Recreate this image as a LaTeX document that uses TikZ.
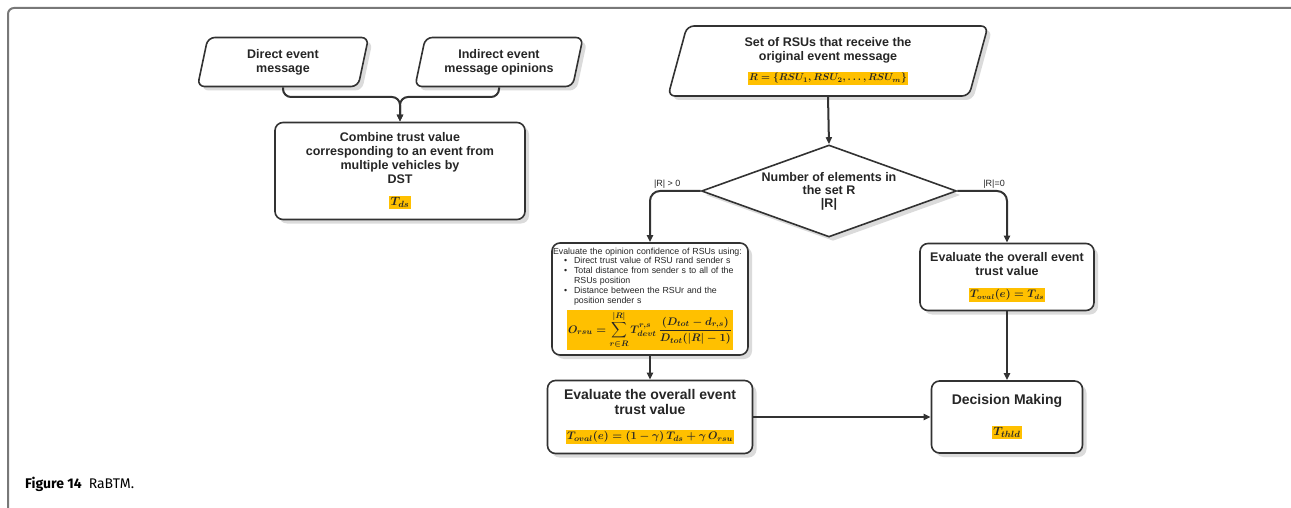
\documentclass[tikz,border=0pt]{standalone}
\usepackage{amsmath}
\usepackage{fontspec}
\setmainfont{Liberation Sans}
\newfontfamily\capfont{Fira Sans}
\usetikzlibrary{arrows.meta, positioning, shapes.geometric, shadows}
\definecolor{hlyellow}{RGB}{255,192,0}
\definecolor{linegray}{RGB}{50,50,50}
\definecolor{framegray}{RGB}{120,120,120}
\newcommand{\hlmath}[1]{{\setlength{\fboxsep}{1.5pt}\colorbox{hlyellow}{\boldmath$#1$}}}
\hyphenpenalty=10000
\exhyphenpenalty=10000

\begin{document}
\begin{tikzpicture}[
    x=1pt, y=-1pt,
    >={Triangle[length=7pt,width=6pt]},
    shade/.style={drop shadow={shadow xshift=4pt, shadow yshift=-4pt, fill=black!14, opacity=1}},
    ionode/.style={trapezium, trapezium left angle=68, trapezium right angle=112, trapezium stretches body,
        draw=linegray, line width=1.6pt, rounded corners=7pt, fill=white, shade, inner sep=0pt,
        align=center, text=black!85, font=\bfseries\fontsize{12.5}{14}\selectfont},
    procnode/.style={rectangle, draw=linegray, line width=1.6pt, rounded corners=8pt, fill=white, shade,
        inner sep=2pt, align=center, text=black!85, font=\bfseries\fontsize{12.5}{14}\selectfont},
    decnode/.style={diamond, aspect=2.77, draw=linegray, line width=1.6pt, fill=white, shade, inner sep=0pt,
        align=center, text=black!85, font=\bfseries\fontsize{12.5}{13}\selectfont},
    conn/.style={draw=linegray, line width=2pt, ->},
    lbl/.style={font=\fontsize{9}{10}\selectfont, text=black!85, inner sep=2pt}
]
\useasboundingbox (0,0) rectangle (1291,508);

% X positions
\def\xcomb{400}
\def\xleft{650}
\def\xright{1007}

% ---------- Frame ----------
\draw[framegray, line width=2pt, rounded corners=6pt] (8,508) -- (8,8) -- (1291,8);

% ---------- Event inputs ----------
\node[ionode, minimum width=171pt, minimum height=49pt] (direct) at (283,62) {Direct event\\message};
\node[ionode, minimum width=168pt, minimum height=49pt] (indirect) at (499,62) {Indirect event\\message opinions};

\node[procnode, minimum width=250pt, minimum height=97pt] (comb) at (\xcomb,171) {Combine trust value\\corresponding to an event from\\multiple vehicles by\\DST\\[8pt]{\fontsize{13}{14}\selectfont\hlmath{T_{ds}}}};

\coordinate (merge) at (\xcomb,97);

% ---------- RSU set ----------
\node[ionode, minimum width=320pt, minimum height=70pt] (rsuset) at (828,61) {Set of RSUs that receive the\\original event message\\[6pt]{\fontsize{10}{11}\selectfont\hlmath{R=\{RSU_1,RSU_2,\dots,RSU_m\}}}};

\node[decnode, minimum width=255pt, minimum height=92pt] (count) at (829,191) {Number of elements in\\the set R\\|R|};

% ---------- Left branch ----------
\node[procnode, minimum width=196pt, minimum height=112pt, text width=194pt, inner sep=1pt, align=left, font=\fontsize{8.8}{9.8}\selectfont] (opinion) at (\xleft,299) {Evaluate the opinion confidence of RSUs using:\\
\begin{tabular}{@{\hspace{11pt}}c@{\hspace{7pt}}l@{}}
\textbullet & Direct trust value of RSU rand sender s\\
\textbullet & Total distance from sender s to all of the\\
 & RSUs position\\
\textbullet & Distance between the RSUr and the\\
 & position sender s
\end{tabular}\\[3pt]
\makebox[\linewidth]{\fontsize{11}{12}\selectfont\hlmath{\displaystyle O_{rsu}=\sum_{r\in R}^{|R|}T_{devt}^{r,s}\,\frac{(D_{tot}-d_{r,s})}{D_{tot}(|R|-1)}}}};

\node[procnode, minimum width=205pt, minimum height=73pt, font=\bfseries\fontsize{14}{15}\selectfont] (evalL) at (\xleft,417) {Evaluate the overall event\\trust value\\[10pt]{\fontsize{11}{12}\selectfont\hlmath{T_{oval}(e)=(1-\gamma)\,T_{ds}+\gamma\,O_{rsu}}}};

% ---------- Right branch ----------
\node[procnode, minimum width=174pt, minimum height=67pt] (evalR) at (\xright,277) {Evaluate the overall event\\trust value\\[8pt]{\fontsize{10.5}{11}\selectfont\hlmath{T_{oval}(e)=T_{ds}}}};

\node[procnode, minimum width=151pt, minimum height=72pt, font=\bfseries\fontsize{14}{15}\selectfont] (decision) at (\xright,417) {Decision Making\\[16pt]{\fontsize{13}{14}\selectfont\hlmath{T_{thld}}}};

% ---------- Caption ----------
\node[anchor=west, inner sep=0pt, font=\capfont\fontsize{14}{15}\selectfont] (caption) at (25,484) {\textbf{Figure 14}\hspace{7pt}RaBTM.};

% ---------- Connections ----------
\foreach \src in {direct,indirect}
    \draw[conn, rounded corners=8pt] (\src.south) |- (merge) -- (comb.north);

\draw[conn] (rsuset.south) -- (count.north);
\draw[conn, rounded corners=10pt] (count.west) -| node[lbl, pos=0.33, above] {|R| > 0} (opinion.north);
\draw[conn, rounded corners=10pt] (count.east) -| node[lbl, pos=0.37, above] {|R|=0} (evalR.north);
\draw[conn] (opinion.south) -- (evalL.north);
\draw[conn] (evalL.east) -- (decision.west);
\draw[conn] (evalR.south) -- (decision.north);

\end{tikzpicture}
\end{document}
